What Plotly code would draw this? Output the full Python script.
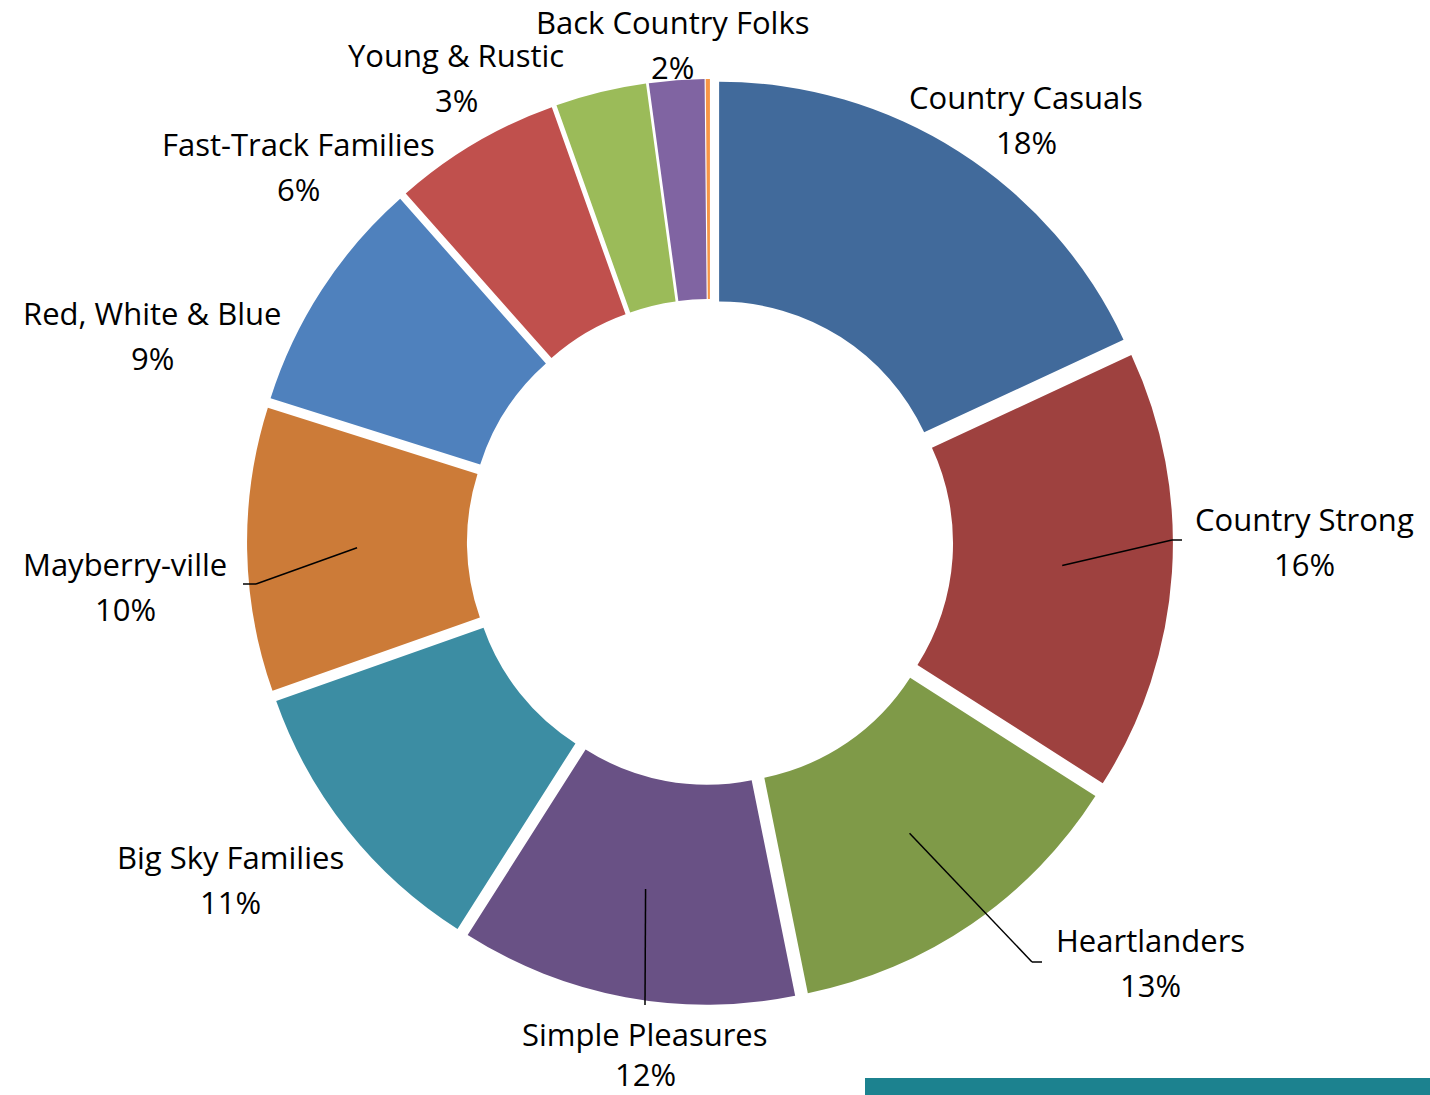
import math
import plotly.graph_objects as go

# ---- data ----
segments = ["Country Casuals", "Country Strong", "Heartlanders", "Simple Pleasures",
            "Big Sky Families", "Mayberry-ville", "Red, White & Blue",
            "Fast-Track Families", "Young & Rustic", "Back Country Folks", "Other"]
shares = [18.1, 16.0, 12.8, 12.2, 10.6, 10.3, 8.6, 6.1, 3.3, 2.0, 0.15]
colors = ["#416A9B", "#9E413F", "#7F9A48", "#695185", "#3C8DA3", "#CC7B38",
          "#4F81BD", "#C0504D", "#9BBB59", "#8064A2", "#F79646"]

W, H = 1430, 1095
CX, CY = 710, 542          # pie centre (px)
R = 446                    # outer radius (px)
PULL = 0.038
HOLE = 0.507

def px(x):
    return x / W

def py(y):
    return 1 - y / H

half = R * (1 + PULL)
fig = go.Figure(go.Pie(
    labels=segments, values=shares, sort=False, direction="clockwise", rotation=0,
    hole=HOLE, pull=PULL, textinfo="none", hoverinfo="label+percent",
    marker=dict(colors=colors, line=dict(width=0)),
    domain=dict(x=[px(CX - half), px(CX + half)], y=[py(CY + half), py(CY - half)]),
    showlegend=False,
))

# label layout (name line centre, px) -- styling only
label_pos = {
    "Country Casuals": (1026, 97),
    "Country Strong": (1304, 519),
    "Heartlanders": (1150, 940),
    "Simple Pleasures": (645, 1034),
    "Big Sky Families": (230, 857),
    "Mayberry-ville": (125, 564),
    "Red, White & Blue": (152, 313),
    "Fast-Track Families": (298, 144),
    "Young & Rustic": (456, 55),
    "Back Country Folks": (672, 22),
}
pct_gap = {"Simple Pleasures": 40}
# leader line outer ends (px) for labels that have them
leader_end = {
    "Country Strong": [(1172, 540), (1182, 540)],
    "Heartlanders": [(1032, 962), (1042, 962)],
    "Simple Pleasures": [(645, 1005)],
    "Mayberry-ville": [(256, 584), (243, 584)],
}

total = sum(shares)
font = dict(family="Open Sans, Lato, sans-serif", size=31, color="#000000")
annotations = []
shapes = []
cum = 0.0
for name, v in zip(segments, shares):
    mid = (cum + v / 2) / total * 2 * math.pi
    cum += v
    if name not in label_pos:
        continue
    lx, ly = label_pos[name]
    pct = f"{round(v / total * 100):d}%"
    annotations.append(dict(x=px(lx), y=py(ly), xref="paper", yref="paper", text=name,
                            showarrow=False, font=font, xanchor="center", yanchor="middle"))
    annotations.append(dict(x=px(lx), y=py(ly + pct_gap.get(name, 45)), xref="paper",
                            yref="paper", text=pct, showarrow=False, font=font,
                            xanchor="center", yanchor="middle"))
    if name in leader_end:
        rr = (R + R * HOLE) / 2 + R * PULL
        sx = CX + rr * math.sin(mid)
        sy = CY - rr * math.cos(mid)
        pts = [(sx, sy)] + leader_end[name]
        for (x0, y0), (x1, y1) in zip(pts[:-1], pts[1:]):
            shapes.append(dict(type="line", xref="paper", yref="paper",
                               x0=px(x0), y0=py(y0), x1=px(x1), y1=py(y1),
                               line=dict(color="#000000", width=1.5)))

# teal bar bottom-right
shapes.append(dict(type="rect", xref="paper", yref="paper",
                   x0=px(865), x1=1.0, y0=0.0, y1=py(1078),
                   fillcolor="#1C828F", line=dict(width=0), layer="above"))

fig.update_layout(width=W, height=H, margin=dict(l=0, r=0, t=0, b=0),
                  paper_bgcolor="white", plot_bgcolor="white",
                  annotations=annotations, shapes=shapes)
fig.write_html("out.html", config={"displayModeBar": False},
               post_script="document.body.style.margin='0';document.body.style.overflow='hidden';")
